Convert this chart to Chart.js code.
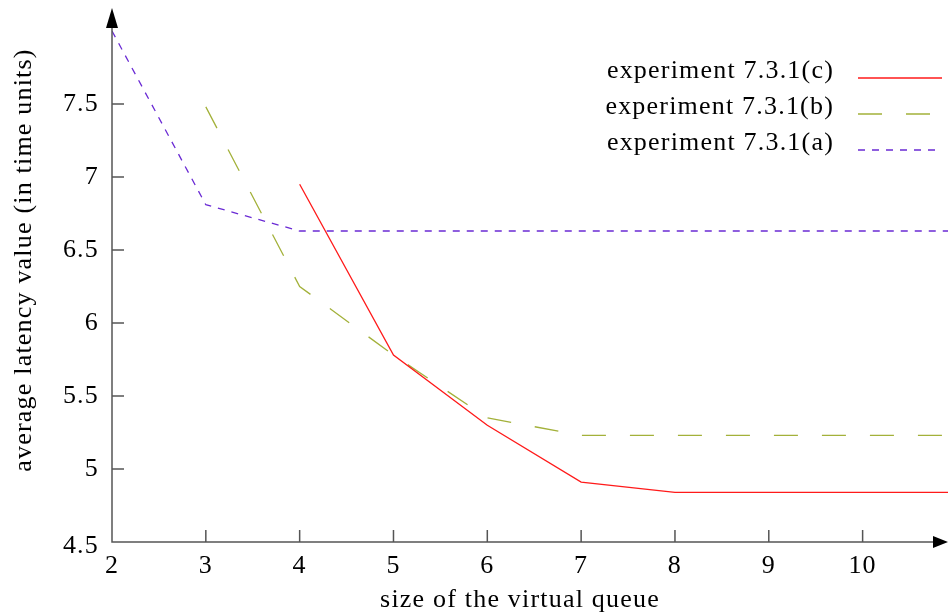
<!DOCTYPE html>
<html>
<head>
<meta charset="utf-8">
<script src="https://cdn.jsdelivr.net/npm/chart.js@4/dist/chart.umd.min.js"></script>
<style>
  html, body { margin: 0; padding: 0; background: #fff; }
  #wrap { width: 948px; height: 614px; }
</style>
</head>
<body>
<div id="wrap"><canvas id="latency"></canvas></div>
<script>
// queue sizes on the x axis
const sizes = [2, 3, 4, 5, 6, 7, 8, 9, 10, 11];
// average latency per experiment (null = not measured)
const expA = [8.00, 6.81, 6.63, 6.63, 6.63, 6.63, 6.63, 6.63, 6.63, 6.63];
const expB = [null, 7.48, 6.25, 5.78, 5.35, 5.23, 5.23, 5.23, 5.23, 5.23];
const expC = [null, null, 6.95, 5.78, 5.30, 4.91, 4.84, 4.84, 4.84, 4.84];
const xTicks = [2, 3, 4, 5, 6, 7, 8, 9, 10];
const yTicks = [4.5, 5, 5.5, 6, 6.5, 7, 7.5];

const FONT = '"Liberation Serif", "DejaVu Serif", serif';

function points(values) {
    return sizes.map((s, i) => ({ x: s, y: values[i] })).filter(p => p.y !== null);
}

const series = [
    { label: 'experiment 7.3.1(c)', data: points(expC), color: '#ff1a1a', dash: [] },
    { label: 'experiment 7.3.1(b)', data: points(expB), color: '#a3b13a', dash: [24, 24] },
    { label: 'experiment 7.3.1(a)', data: points(expA), color: '#6a2ad4', dash: [7, 7] }
];

// axes, inward ticks, arrows, legend and axis titles
const decor = {
    id: 'decor',
    afterDatasetsDraw(chart) {
        const ctx = chart.ctx;
        const x = chart.scales.x, y = chart.scales.y;
        const a = chart.chartArea;
        const x0 = x.getPixelForValue(2), y0 = y.getPixelForValue(4.5);
        ctx.save();
        ctx.strokeStyle = '#555';
        ctx.lineWidth = 1.5;
        ctx.beginPath();
        ctx.moveTo(x0, a.top + 10); ctx.lineTo(x0, y0); ctx.lineTo(a.right - 10, y0);
        xTicks.forEach(v => { const p = x.getPixelForValue(v); ctx.moveTo(p, y0); ctx.lineTo(p, y0 - 12); });
        yTicks.forEach(v => { const p = y.getPixelForValue(v); ctx.moveTo(x0, p); ctx.lineTo(x0 + 12, p); });
        ctx.stroke();

        ctx.fillStyle = '#000';
        ctx.beginPath();
        ctx.moveTo(x0, a.top - 4); ctx.lineTo(x0 - 6, a.top + 16); ctx.lineTo(x0 + 6, a.top + 16);
        ctx.closePath(); ctx.fill();
        ctx.beginPath();
        ctx.moveTo(a.right, y0); ctx.lineTo(a.right - 15, y0 - 6); ctx.lineTo(a.right - 15, y0 + 6);
        ctx.closePath(); ctx.fill();

        ctx.font = '26px ' + FONT;
        ctx.letterSpacing = '1.2px';
        ctx.textBaseline = 'middle';
        ctx.textAlign = 'center';
        xTicks.forEach(v => ctx.fillText(String(v), x.getPixelForValue(v), y0 + 24));
        ctx.textAlign = 'right';
        yTicks.forEach(v => ctx.fillText(String(v), x0 - 13, y.getPixelForValue(v) + (v === 4.5 ? 4 : 0)));

        ctx.textAlign = 'center';
        ctx.fillText('size of the virtual queue', 520, 600);
        ctx.save();
        ctx.translate(24, 260);
        ctx.rotate(-Math.PI / 2);
        ctx.fillText('average latency value (in time units)', 0, 0);
        ctx.restore();

        ctx.textAlign = 'right';
        ctx.textBaseline = 'alphabetic';
        series.forEach((s, i) => {
            const ly = 78 + i * 36;
            ctx.fillStyle = '#000';
            ctx.fillText(s.label, 834, ly);
            ctx.strokeStyle = s.color;
            ctx.lineWidth = 1.3;
            ctx.setLineDash(s.dash);
            ctx.beginPath(); ctx.moveTo(858, ly); ctx.lineTo(942, ly); ctx.stroke();
        });
        ctx.restore();
    }
};

new Chart(document.getElementById('latency'), {
    type: 'line',
    data: {
        datasets: series.map(s => ({
            label: s.label,
            data: s.data,
            borderColor: s.color,
            borderDash: s.dash,
            borderWidth: 1.3,
            pointRadius: 0,
            tension: 0,
            fill: false
        }))
    },
    options: {
        responsive: true,
        maintainAspectRatio: false,
        animation: false,
        layout: { padding: { top: 12, right: 0, left: 0, bottom: 0 } },
        plugins: { legend: { display: false }, tooltip: { enabled: false } },
        scales: {
            x: {
                type: 'linear', min: 2, max: 10.91,
                grid: { display: false }, border: { display: false },
                ticks: { display: false },
                afterFit: s => { s.height = 72; }
            },
            y: {
                min: 4.5, max: 8.13,
                grid: { display: false }, border: { display: false },
                ticks: { display: false },
                afterFit: s => { s.width = 112; }
            }
        }
    },
    plugins: [decor]
});
</script>
</body>
</html>
